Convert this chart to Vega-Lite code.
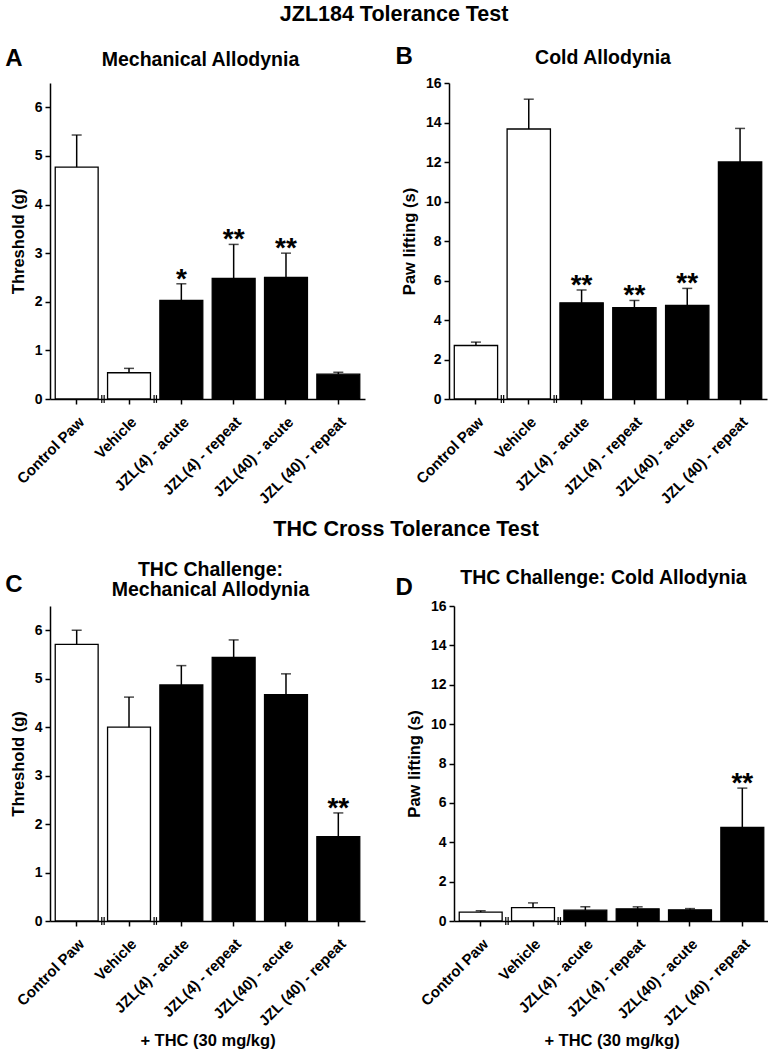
{
  "$schema": "https://vega.github.io/schema/vega-lite/v6.json",
  "background": "white",
  "padding": {"left": 5, "top": 3, "right": 0, "bottom": 0},
  "config": {
    "font": "Liberation Sans",
    "view": {"stroke": null},
    "axis": {
      "labelFont": "Liberation Sans", "labelFontWeight": "bold", "labelColor": "black", "labelFontSize": 14,
      "titleFont": "Liberation Sans", "titleFontWeight": "bold", "titleColor": "black", "titleFontSize": 16.5,
      "domainColor": "black", "domainWidth": 1.5, "tickColor": "black", "tickWidth": 1.5, "tickSize": 5, "grid": false, "labelPadding": 3
    },
    "title": {"font": "Liberation Sans", "fontWeight": "bold", "color": "black"}
  },
  "datasets": {
    "bars": [
      {"panel": "A", "group": "Control Paw", "kind": "ctrl", "mean": 4.77, "upper": 5.43, "sig": ""},
      {"panel": "A", "group": "Vehicle", "kind": "ctrl", "mean": 0.54, "upper": 0.63, "sig": ""},
      {"panel": "A", "group": "JZL(4) - acute", "kind": "jzl", "mean": 2.03, "upper": 2.37, "sig": "*"},
      {"panel": "A", "group": "JZL(4) - repeat", "kind": "jzl", "mean": 2.48, "upper": 3.18, "sig": "**"},
      {"panel": "A", "group": "JZL(40) - acute", "kind": "jzl", "mean": 2.50, "upper": 3.00, "sig": "**"},
      {"panel": "A", "group": "JZL (40) - repeat", "kind": "jzl", "mean": 0.51, "upper": 0.55, "sig": ""},
      {"panel": "B", "group": "Control Paw", "kind": "ctrl", "mean": 2.71, "upper": 2.88, "sig": ""},
      {"panel": "B", "group": "Vehicle", "kind": "ctrl", "mean": 13.67, "upper": 15.18, "sig": ""},
      {"panel": "B", "group": "JZL(4) - acute", "kind": "jzl", "mean": 4.87, "upper": 5.52, "sig": "**"},
      {"panel": "B", "group": "JZL(4) - repeat", "kind": "jzl", "mean": 4.62, "upper": 4.99, "sig": "**"},
      {"panel": "B", "group": "JZL(40) - acute", "kind": "jzl", "mean": 4.74, "upper": 5.60, "sig": "**"},
      {"panel": "B", "group": "JZL (40) - repeat", "kind": "jzl", "mean": 12.0, "upper": 13.7, "sig": ""},
      {"panel": "C", "group": "Control Paw", "kind": "ctrl", "mean": 5.71, "upper": 6.0, "sig": ""},
      {"panel": "C", "group": "Vehicle", "kind": "ctrl", "mean": 4.0, "upper": 4.62, "sig": ""},
      {"panel": "C", "group": "JZL(4) - acute", "kind": "jzl", "mean": 4.87, "upper": 5.27, "sig": ""},
      {"panel": "C", "group": "JZL(4) - repeat", "kind": "jzl", "mean": 5.44, "upper": 5.80, "sig": ""},
      {"panel": "C", "group": "JZL(40) - acute", "kind": "jzl", "mean": 4.67, "upper": 5.10, "sig": ""},
      {"panel": "C", "group": "JZL (40) - repeat", "kind": "jzl", "mean": 1.74, "upper": 2.23, "sig": "**"},
      {"panel": "D", "group": "Control Paw", "kind": "ctrl", "mean": 0.45, "upper": 0.52, "sig": ""},
      {"panel": "D", "group": "Vehicle", "kind": "ctrl", "mean": 0.68, "upper": 0.92, "sig": ""},
      {"panel": "D", "group": "JZL(4) - acute", "kind": "jzl", "mean": 0.55, "upper": 0.72, "sig": ""},
      {"panel": "D", "group": "JZL(4) - repeat", "kind": "jzl", "mean": 0.62, "upper": 0.72, "sig": ""},
      {"panel": "D", "group": "JZL(40) - acute", "kind": "jzl", "mean": 0.57, "upper": 0.63, "sig": ""},
      {"panel": "D", "group": "JZL (40) - repeat", "kind": "jzl", "mean": 4.76, "upper": 6.75, "sig": "**"}
    ],
    "breaks": [
      {"group": "Control Paw"},
      {"group": "Vehicle"}
    ]
  },
  "spacing": 11,
  "vconcat": [
    {
      "title": {"text": "JZL184 Tolerance Test", "anchor": "middle", "fontSize": 21.5, "offset": 20, "dx": 8},
      "spacing": 30,
      "hconcat": [
        {
          "width": 315, "height": 316,
          "title": {"text": "A", "anchor": "start", "frame": "bounds", "fontSize": 24, "offset": -21, "dx": -5},
          "layer": [
            {
              "data": {"name": "bars"}, "transform": [{"filter": "datum.panel == 'A'"}],
              "mark": {"type": "bar", "stroke": "black", "strokeWidth": 1.3},
              "encoding": {
                "x": {"field": "group", "type": "nominal", "title": null, "scale": {"domain": ["Control Paw", "Vehicle", "JZL(4) - acute", "JZL(4) - repeat", "JZL(40) - acute", "JZL (40) - repeat"], "paddingInner": 0.18, "paddingOuter": 0.1}, "axis": {"title": null, "labelAngle": -45, "labelFontSize": 15, "labelPadding": 10}},
                "y": {"field": "mean", "type": "quantitative", "title": "Threshold (g)", "scale": {"domain": [0, 6.5], "nice": false}, "axis": {"title": "Threshold (g)", "values": [0, 1, 2, 3, 4, 5, 6], "titlePadding": 8, "labelFontSize": 14, "labelFontWeight": "bold", "labelColor": "black"}},
                "fill": {"field": "kind", "type": "nominal", "scale": {"domain": ["ctrl", "jzl"], "range": ["white", "black"]}, "legend": null}
              }
            },
            {
              "data": {"name": "bars"}, "transform": [{"filter": "datum.panel == 'A'"}],
              "mark": {"type": "rule", "color": "black", "strokeWidth": 1.5},
              "encoding": {"x": {"field": "group", "type": "nominal", "title": null}, "y": {"field": "mean", "type": "quantitative", "title": "Threshold (g)", "axis": {"title": "Threshold (g)", "values": [0, 1, 2, 3, 4, 5, 6], "titlePadding": 8, "labelFontSize": 14, "labelFontWeight": "bold", "labelColor": "black"}}, "y2": {"field": "upper"}}
            },
            {
              "data": {"name": "bars"}, "transform": [{"filter": "datum.panel == 'A'"}],
              "mark": {"type": "tick", "color": "black", "thickness": 1.5, "size": 10},
              "encoding": {"x": {"field": "group", "type": "nominal", "title": null}, "y": {"field": "upper", "type": "quantitative", "title": "Threshold (g)", "axis": {"title": "Threshold (g)", "values": [0, 1, 2, 3, 4, 5, 6], "titlePadding": 8, "labelFontSize": 14, "labelFontWeight": "bold", "labelColor": "black"}}}
            },
            {
              "data": {"name": "bars"}, "transform": [{"filter": "datum.panel == 'A'"}],
              "mark": {"type": "text", "color": "black", "fontSize": 28, "fontWeight": "bold", "baseline": "alphabetic", "dy": 4},
              "encoding": {"x": {"field": "group", "type": "nominal", "title": null}, "y": {"field": "upper", "type": "quantitative", "title": "Threshold (g)", "axis": {"title": "Threshold (g)", "values": [0, 1, 2, 3, 4, 5, 6], "titlePadding": 8, "labelFontSize": 14, "labelFontWeight": "bold", "labelColor": "black"}}, "text": {"field": "sig"}}
            },
            {
              "data": {"name": "breaks"},
              "mark": {"type": "rule", "color": "black", "strokeWidth": 1.2},
              "encoding": {"x": {"field": "group", "type": "nominal", "title": null, "bandPosition": 1.085}, "y": {"datum": -0.08, "type": "quantitative", "title": "Threshold (g)", "axis": {"title": "Threshold (g)", "values": [0, 1, 2, 3, 4, 5, 6], "titlePadding": 8, "labelFontSize": 14, "labelFontWeight": "bold", "labelColor": "black"}}, "y2": {"datum": 0.08}}
            },
            {
              "data": {"name": "breaks"},
              "mark": {"type": "rule", "color": "black", "strokeWidth": 1.2},
              "encoding": {"x": {"field": "group", "type": "nominal", "title": null, "bandPosition": 1.14}, "y": {"datum": -0.08, "type": "quantitative", "title": "Threshold (g)", "axis": {"title": "Threshold (g)", "values": [0, 1, 2, 3, 4, 5, 6], "titlePadding": 8, "labelFontSize": 14, "labelFontWeight": "bold", "labelColor": "black"}}, "y2": {"datum": 0.08}}
            },
            {
              "data": {"values": [{"h": "Mechanical Allodynia"}]},
              "mark": {"type": "text", "color": "black", "fontSize": 19.5, "fontWeight": "bold", "baseline": "middle", "dx": -7},
              "encoding": {"x": {"datum": "JZL(4) - acute", "type": "nominal", "title": null, "bandPosition": 1.11}, "y": {"datum": 6.98, "type": "quantitative", "title": "Threshold (g)", "axis": {"title": "Threshold (g)", "values": [0, 1, 2, 3, 4, 5, 6], "titlePadding": 8, "labelFontSize": 14, "labelFontWeight": "bold", "labelColor": "black"}}, "text": {"field": "h"}}
            }
          ]
        },
        {
          "width": 318, "height": 316,
          "title": {"text": "B", "anchor": "start", "frame": "bounds", "fontSize": 24, "offset": -21, "dx": -6},
          "layer": [
            {
              "data": {"name": "bars"}, "transform": [{"filter": "datum.panel == 'B'"}],
              "mark": {"type": "bar", "stroke": "black", "strokeWidth": 1.3},
              "encoding": {
                "x": {"field": "group", "type": "nominal", "title": null, "scale": {"domain": ["Control Paw", "Vehicle", "JZL(4) - acute", "JZL(4) - repeat", "JZL(40) - acute", "JZL (40) - repeat"], "paddingInner": 0.18, "paddingOuter": 0.1}, "axis": {"title": null, "labelAngle": -45, "labelFontSize": 15, "labelPadding": 10}},
                "y": {"field": "mean", "type": "quantitative", "title": "Paw lifting (s)", "scale": {"domain": [0, 16], "nice": false}, "axis": {"title": "Paw lifting (s)", "values": [0, 2, 4, 6, 8, 10, 12, 14, 16], "titlePadding": 8, "labelFontSize": 14, "labelFontWeight": "bold", "labelColor": "black"}},
                "fill": {"field": "kind", "type": "nominal", "scale": {"domain": ["ctrl", "jzl"], "range": ["white", "black"]}, "legend": null}
              }
            },
            {
              "data": {"name": "bars"}, "transform": [{"filter": "datum.panel == 'B'"}],
              "mark": {"type": "rule", "color": "black", "strokeWidth": 1.5},
              "encoding": {"x": {"field": "group", "type": "nominal", "title": null}, "y": {"field": "mean", "type": "quantitative", "title": "Paw lifting (s)", "axis": {"title": "Paw lifting (s)", "values": [0, 2, 4, 6, 8, 10, 12, 14, 16], "titlePadding": 8, "labelFontSize": 14, "labelFontWeight": "bold", "labelColor": "black"}}, "y2": {"field": "upper"}}
            },
            {
              "data": {"name": "bars"}, "transform": [{"filter": "datum.panel == 'B'"}],
              "mark": {"type": "tick", "color": "black", "thickness": 1.5, "size": 10},
              "encoding": {"x": {"field": "group", "type": "nominal", "title": null}, "y": {"field": "upper", "type": "quantitative", "title": "Paw lifting (s)", "axis": {"title": "Paw lifting (s)", "values": [0, 2, 4, 6, 8, 10, 12, 14, 16], "titlePadding": 8, "labelFontSize": 14, "labelFontWeight": "bold", "labelColor": "black"}}}
            },
            {
              "data": {"name": "bars"}, "transform": [{"filter": "datum.panel == 'B'"}],
              "mark": {"type": "text", "color": "black", "fontSize": 28, "fontWeight": "bold", "baseline": "alphabetic", "dy": 4},
              "encoding": {"x": {"field": "group", "type": "nominal", "title": null}, "y": {"field": "upper", "type": "quantitative", "title": "Paw lifting (s)", "axis": {"title": "Paw lifting (s)", "values": [0, 2, 4, 6, 8, 10, 12, 14, 16], "titlePadding": 8, "labelFontSize": 14, "labelFontWeight": "bold", "labelColor": "black"}}, "text": {"field": "sig"}}
            },
            {
              "data": {"name": "breaks"},
              "mark": {"type": "rule", "color": "black", "strokeWidth": 1.2},
              "encoding": {"x": {"field": "group", "type": "nominal", "title": null, "bandPosition": 1.085}, "y": {"datum": -0.2, "type": "quantitative", "title": "Paw lifting (s)", "axis": {"title": "Paw lifting (s)", "values": [0, 2, 4, 6, 8, 10, 12, 14, 16], "titlePadding": 8, "labelFontSize": 14, "labelFontWeight": "bold", "labelColor": "black"}}, "y2": {"datum": 0.2}}
            },
            {
              "data": {"name": "breaks"},
              "mark": {"type": "rule", "color": "black", "strokeWidth": 1.2},
              "encoding": {"x": {"field": "group", "type": "nominal", "title": null, "bandPosition": 1.14}, "y": {"datum": -0.2, "type": "quantitative", "title": "Paw lifting (s)", "axis": {"title": "Paw lifting (s)", "values": [0, 2, 4, 6, 8, 10, 12, 14, 16], "titlePadding": 8, "labelFontSize": 14, "labelFontWeight": "bold", "labelColor": "black"}}, "y2": {"datum": 0.2}}
            },
            {
              "data": {"values": [{"h": "Cold Allodynia"}]},
              "mark": {"type": "text", "color": "black", "fontSize": 19.5, "fontWeight": "bold", "baseline": "middle", "dx": -5},
              "encoding": {"x": {"datum": "JZL(4) - acute", "type": "nominal", "title": null, "bandPosition": 1.11}, "y": {"datum": 17.25, "type": "quantitative", "title": "Paw lifting (s)", "axis": {"title": "Paw lifting (s)", "values": [0, 2, 4, 6, 8, 10, 12, 14, 16], "titlePadding": 8, "labelFontSize": 14, "labelFontWeight": "bold", "labelColor": "black"}}, "text": {"field": "h"}}
            }
          ]
        }
      ]
    },
    {
      "title": {"text": "THC Cross Tolerance Test", "anchor": "middle", "fontSize": 21.5, "offset": 20, "dx": 19},
      "spacing": 30,
      "hconcat": [
        {
          "width": 315, "height": 315,
          "title": {"text": "C", "anchor": "start", "frame": "bounds", "fontSize": 24, "offset": -37, "dx": -5},
          "layer": [
            {
              "data": {"name": "bars"}, "transform": [{"filter": "datum.panel == 'C'"}],
              "mark": {"type": "bar", "stroke": "black", "strokeWidth": 1.3},
              "encoding": {
                "x": {"field": "group", "type": "nominal", "title": "+ THC (30 mg/kg)", "scale": {"domain": ["Control Paw", "Vehicle", "JZL(4) - acute", "JZL(4) - repeat", "JZL(40) - acute", "JZL (40) - repeat"], "paddingInner": 0.18, "paddingOuter": 0.1}, "axis": {"title": "+ THC (30 mg/kg)", "titlePadding": 4, "labelAngle": -45, "labelFontSize": 15, "labelPadding": 10}},
                "y": {"field": "mean", "type": "quantitative", "title": "Threshold (g)", "scale": {"domain": [0, 6.5], "nice": false}, "axis": {"title": "Threshold (g)", "values": [0, 1, 2, 3, 4, 5, 6], "titlePadding": 8, "labelFontSize": 14, "labelFontWeight": "bold", "labelColor": "black"}},
                "fill": {"field": "kind", "type": "nominal", "scale": {"domain": ["ctrl", "jzl"], "range": ["white", "black"]}, "legend": null}
              }
            },
            {
              "data": {"name": "bars"}, "transform": [{"filter": "datum.panel == 'C'"}],
              "mark": {"type": "rule", "color": "black", "strokeWidth": 1.5},
              "encoding": {"x": {"field": "group", "type": "nominal", "title": "+ THC (30 mg/kg)"}, "y": {"field": "mean", "type": "quantitative", "title": "Threshold (g)", "axis": {"title": "Threshold (g)", "values": [0, 1, 2, 3, 4, 5, 6], "titlePadding": 8, "labelFontSize": 14, "labelFontWeight": "bold", "labelColor": "black"}}, "y2": {"field": "upper"}}
            },
            {
              "data": {"name": "bars"}, "transform": [{"filter": "datum.panel == 'C'"}],
              "mark": {"type": "tick", "color": "black", "thickness": 1.5, "size": 10},
              "encoding": {"x": {"field": "group", "type": "nominal", "title": "+ THC (30 mg/kg)"}, "y": {"field": "upper", "type": "quantitative", "title": "Threshold (g)", "axis": {"title": "Threshold (g)", "values": [0, 1, 2, 3, 4, 5, 6], "titlePadding": 8, "labelFontSize": 14, "labelFontWeight": "bold", "labelColor": "black"}}}
            },
            {
              "data": {"name": "bars"}, "transform": [{"filter": "datum.panel == 'C'"}],
              "mark": {"type": "text", "color": "black", "fontSize": 28, "fontWeight": "bold", "baseline": "alphabetic", "dy": 4},
              "encoding": {"x": {"field": "group", "type": "nominal", "title": "+ THC (30 mg/kg)"}, "y": {"field": "upper", "type": "quantitative", "title": "Threshold (g)", "axis": {"title": "Threshold (g)", "values": [0, 1, 2, 3, 4, 5, 6], "titlePadding": 8, "labelFontSize": 14, "labelFontWeight": "bold", "labelColor": "black"}}, "text": {"field": "sig"}}
            },
            {
              "data": {"name": "breaks"},
              "mark": {"type": "rule", "color": "black", "strokeWidth": 1.2},
              "encoding": {"x": {"field": "group", "type": "nominal", "title": "+ THC (30 mg/kg)", "bandPosition": 1.085}, "y": {"datum": -0.08, "type": "quantitative", "title": "Threshold (g)", "axis": {"title": "Threshold (g)", "values": [0, 1, 2, 3, 4, 5, 6], "titlePadding": 8, "labelFontSize": 14, "labelFontWeight": "bold", "labelColor": "black"}}, "y2": {"datum": 0.08}}
            },
            {
              "data": {"name": "breaks"},
              "mark": {"type": "rule", "color": "black", "strokeWidth": 1.2},
              "encoding": {"x": {"field": "group", "type": "nominal", "title": "+ THC (30 mg/kg)", "bandPosition": 1.14}, "y": {"datum": -0.08, "type": "quantitative", "title": "Threshold (g)", "axis": {"title": "Threshold (g)", "values": [0, 1, 2, 3, 4, 5, 6], "titlePadding": 8, "labelFontSize": 14, "labelFontWeight": "bold", "labelColor": "black"}}, "y2": {"datum": 0.08}}
            },
            {
              "data": {"values": [{"h": "THC Challenge:|Mechanical Allodynia"}]},
              "mark": {"type": "text", "color": "black", "fontSize": 19.5, "fontWeight": "bold", "baseline": "middle", "lineBreak": "|", "lineHeight": 20, "dx": 3},
              "encoding": {"x": {"datum": "JZL(4) - acute", "type": "nominal", "title": "+ THC (30 mg/kg)", "bandPosition": 1.11}, "y": {"datum": 7.24, "type": "quantitative", "title": "Threshold (g)", "axis": {"title": "Threshold (g)", "values": [0, 1, 2, 3, 4, 5, 6], "titlePadding": 8, "labelFontSize": 14, "labelFontWeight": "bold", "labelColor": "black"}}, "text": {"field": "h"}}
            }
          ]
        },
        {
          "width": 315, "height": 315,
          "title": {"text": "D", "anchor": "start", "frame": "bounds", "fontSize": 24, "offset": -32, "dx": -11},
          "layer": [
            {
              "data": {"name": "bars"}, "transform": [{"filter": "datum.panel == 'D'"}],
              "mark": {"type": "bar", "stroke": "black", "strokeWidth": 1.3},
              "encoding": {
                "x": {"field": "group", "type": "nominal", "title": "+ THC (30 mg/kg)", "scale": {"domain": ["Control Paw", "Vehicle", "JZL(4) - acute", "JZL(4) - repeat", "JZL(40) - acute", "JZL (40) - repeat"], "paddingInner": 0.18, "paddingOuter": 0.1}, "axis": {"title": "+ THC (30 mg/kg)", "titlePadding": 4, "labelAngle": -45, "labelFontSize": 15, "labelPadding": 10}},
                "y": {"field": "mean", "type": "quantitative", "title": "Paw lifting (s)", "scale": {"domain": [0, 16], "nice": false}, "axis": {"title": "Paw lifting (s)", "values": [0, 2, 4, 6, 8, 10, 12, 14, 16], "titlePadding": 8, "labelFontSize": 14, "labelFontWeight": "bold", "labelColor": "black"}},
                "fill": {"field": "kind", "type": "nominal", "scale": {"domain": ["ctrl", "jzl"], "range": ["white", "black"]}, "legend": null}
              }
            },
            {
              "data": {"name": "bars"}, "transform": [{"filter": "datum.panel == 'D'"}],
              "mark": {"type": "rule", "color": "black", "strokeWidth": 1.5},
              "encoding": {"x": {"field": "group", "type": "nominal", "title": "+ THC (30 mg/kg)"}, "y": {"field": "mean", "type": "quantitative", "title": "Paw lifting (s)", "axis": {"title": "Paw lifting (s)", "values": [0, 2, 4, 6, 8, 10, 12, 14, 16], "titlePadding": 8, "labelFontSize": 14, "labelFontWeight": "bold", "labelColor": "black"}}, "y2": {"field": "upper"}}
            },
            {
              "data": {"name": "bars"}, "transform": [{"filter": "datum.panel == 'D'"}],
              "mark": {"type": "tick", "color": "black", "thickness": 1.5, "size": 10},
              "encoding": {"x": {"field": "group", "type": "nominal", "title": "+ THC (30 mg/kg)"}, "y": {"field": "upper", "type": "quantitative", "title": "Paw lifting (s)", "axis": {"title": "Paw lifting (s)", "values": [0, 2, 4, 6, 8, 10, 12, 14, 16], "titlePadding": 8, "labelFontSize": 14, "labelFontWeight": "bold", "labelColor": "black"}}}
            },
            {
              "data": {"name": "bars"}, "transform": [{"filter": "datum.panel == 'D'"}],
              "mark": {"type": "text", "color": "black", "fontSize": 28, "fontWeight": "bold", "baseline": "alphabetic", "dy": 4},
              "encoding": {"x": {"field": "group", "type": "nominal", "title": "+ THC (30 mg/kg)"}, "y": {"field": "upper", "type": "quantitative", "title": "Paw lifting (s)", "axis": {"title": "Paw lifting (s)", "values": [0, 2, 4, 6, 8, 10, 12, 14, 16], "titlePadding": 8, "labelFontSize": 14, "labelFontWeight": "bold", "labelColor": "black"}}, "text": {"field": "sig"}}
            },
            {
              "data": {"name": "breaks"},
              "mark": {"type": "rule", "color": "black", "strokeWidth": 1.2},
              "encoding": {"x": {"field": "group", "type": "nominal", "title": "+ THC (30 mg/kg)", "bandPosition": 1.085}, "y": {"datum": -0.2, "type": "quantitative", "title": "Paw lifting (s)", "axis": {"title": "Paw lifting (s)", "values": [0, 2, 4, 6, 8, 10, 12, 14, 16], "titlePadding": 8, "labelFontSize": 14, "labelFontWeight": "bold", "labelColor": "black"}}, "y2": {"datum": 0.2}}
            },
            {
              "data": {"name": "breaks"},
              "mark": {"type": "rule", "color": "black", "strokeWidth": 1.2},
              "encoding": {"x": {"field": "group", "type": "nominal", "title": "+ THC (30 mg/kg)", "bandPosition": 1.14}, "y": {"datum": -0.2, "type": "quantitative", "title": "Paw lifting (s)", "axis": {"title": "Paw lifting (s)", "values": [0, 2, 4, 6, 8, 10, 12, 14, 16], "titlePadding": 8, "labelFontSize": 14, "labelFontWeight": "bold", "labelColor": "black"}}, "y2": {"datum": 0.2}}
            },
            {
              "data": {"values": [{"h": "THC Challenge: Cold Allodynia"}]},
              "mark": {"type": "text", "color": "black", "fontSize": 19.5, "fontWeight": "bold", "baseline": "middle", "dx": -8},
              "encoding": {"x": {"datum": "JZL(4) - acute", "type": "nominal", "title": "+ THC (30 mg/kg)", "bandPosition": 1.11}, "y": {"datum": 17.44, "type": "quantitative", "title": "Paw lifting (s)", "axis": {"title": "Paw lifting (s)", "values": [0, 2, 4, 6, 8, 10, 12, 14, 16], "titlePadding": 8, "labelFontSize": 14, "labelFontWeight": "bold", "labelColor": "black"}}, "text": {"field": "h"}}
            }
          ]
        }
      ]
    }
  ]
}
